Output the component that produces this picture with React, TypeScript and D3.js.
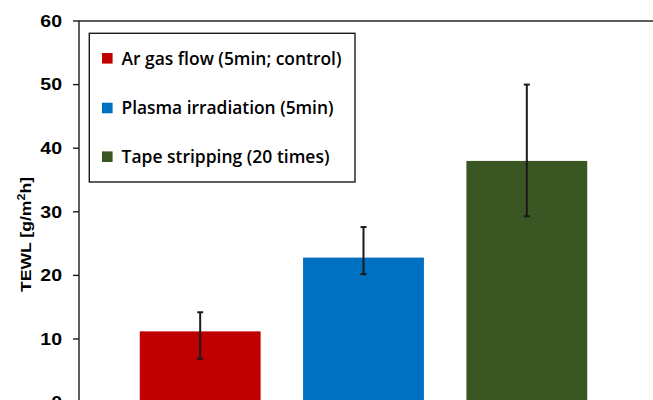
import React from "react";
import * as d3 from "d3";

// bar chart of TEWL by treatment, with error bars
const categories = [
  "Ar gas flow (5min; control)",
  "Plasma irradiation (5min)",
  "Tape stripping (20 times)",
];
const means = [11.2, 22.8, 38.0];
const errLow = [6.9, 20.2, 29.3];
const errHigh = [14.2, 27.6, 50.0];
const colors = ["#C00000", "#0070C0", "#3A5723"];
const yTicks = [0, 10, 20, 30, 40, 50, 60];

const W = 653;
const H = 400;

// legend text widths as measured on the reference
const legendWidths = [220, 212, 208];

export default function App() {
  const y = d3.scaleLinear().domain([0, 60]).range([402.6, 21]);
  const x = d3
    .scaleBand<string>()
    .domain(categories)
    .range([79, 648])
    .paddingInner(0.26)
    .paddingOuter(0.372);

  const bw = x.bandwidth();

  return (
    <svg
      width={W}
      height={H}
      style={{ position: "absolute", left: 0, top: 0, background: "#fff" }}
    >
      {/* bars */}
      {categories.map((c, i) => (
        <rect
          key={c}
          x={x(c)}
          y={y(means[i])}
          width={bw}
          height={y(0) - y(means[i])}
          fill={colors[i]}
        />
      ))}

      {/* error bars */}
      {categories.map((c, i) => {
        const cx = (x(c) as number) + bw / 2;
        return (
          <g key={"e" + c} stroke="#1a1a1a" strokeWidth={2}>
            <line x1={cx} x2={cx} y1={y(errLow[i])} y2={y(errHigh[i])} />
            <line x1={cx - 3} x2={cx + 3} y1={y(errLow[i])} y2={y(errLow[i])} />
            <line x1={cx - 3} x2={cx + 3} y1={y(errHigh[i])} y2={y(errHigh[i])} />
          </g>
        );
      })}

      {/* plot frame */}
      <rect x={79} y={21} width={700} height={420} fill="none" stroke="#1a1a1a" strokeWidth={1.4} />

      {/* y ticks */}
      {yTicks.map((t) => (
        <g key={t}>
          <line x1={73} x2={79} y1={y(t)} y2={y(t)} stroke="#1a1a1a" strokeWidth={1.4} />
          <text
            transform={`translate(62,${y(t) + 5.8}) scale(1.22,1)`}
            textAnchor="end"
            fontFamily="Liberation Sans, Arial, sans-serif"
            fontWeight="bold"
            fontSize={16}
            fill="#000"
          >
            {t}
          </text>
        </g>
      ))}

      {/* y label */}
      <text
        transform="translate(30.5,234.5) rotate(-90)"
        textAnchor="middle"
        fontFamily="Liberation Sans, Arial, sans-serif"
        fontWeight="bold"
        fontSize={15.5}
        fill="#000"
        textLength={115}
        lengthAdjust="spacingAndGlyphs"
      >
        TEWL [g/m
        <tspan fontSize={11} dy={-6}>2</tspan>
        <tspan dy={6}>h]</tspan>
      </text>

      {/* legend */}
      <rect x={89.3} y={33.3} width={265.7} height={148.7} fill="#fff" stroke="#1a1a1a" strokeWidth={1.4} />
      {categories.map((c, i) => {
        const cy = [58.3, 108, 156.7][i];
        return (
          <g key={"l" + c}>
            <rect x={102} y={cy - 5.3} width={10.6} height={10.6} fill={colors[i]} />
            <text
              x={121.5}
              y={cy + 6.3}
              fontFamily="Open Sans, sans-serif"
              fontWeight={600}
              fontSize={18}
              fill="#000"
              textLength={legendWidths[i]}
              lengthAdjust="spacingAndGlyphs"
            >
              {c}
            </text>
          </g>
        );
      })}
    </svg>
  );
}
